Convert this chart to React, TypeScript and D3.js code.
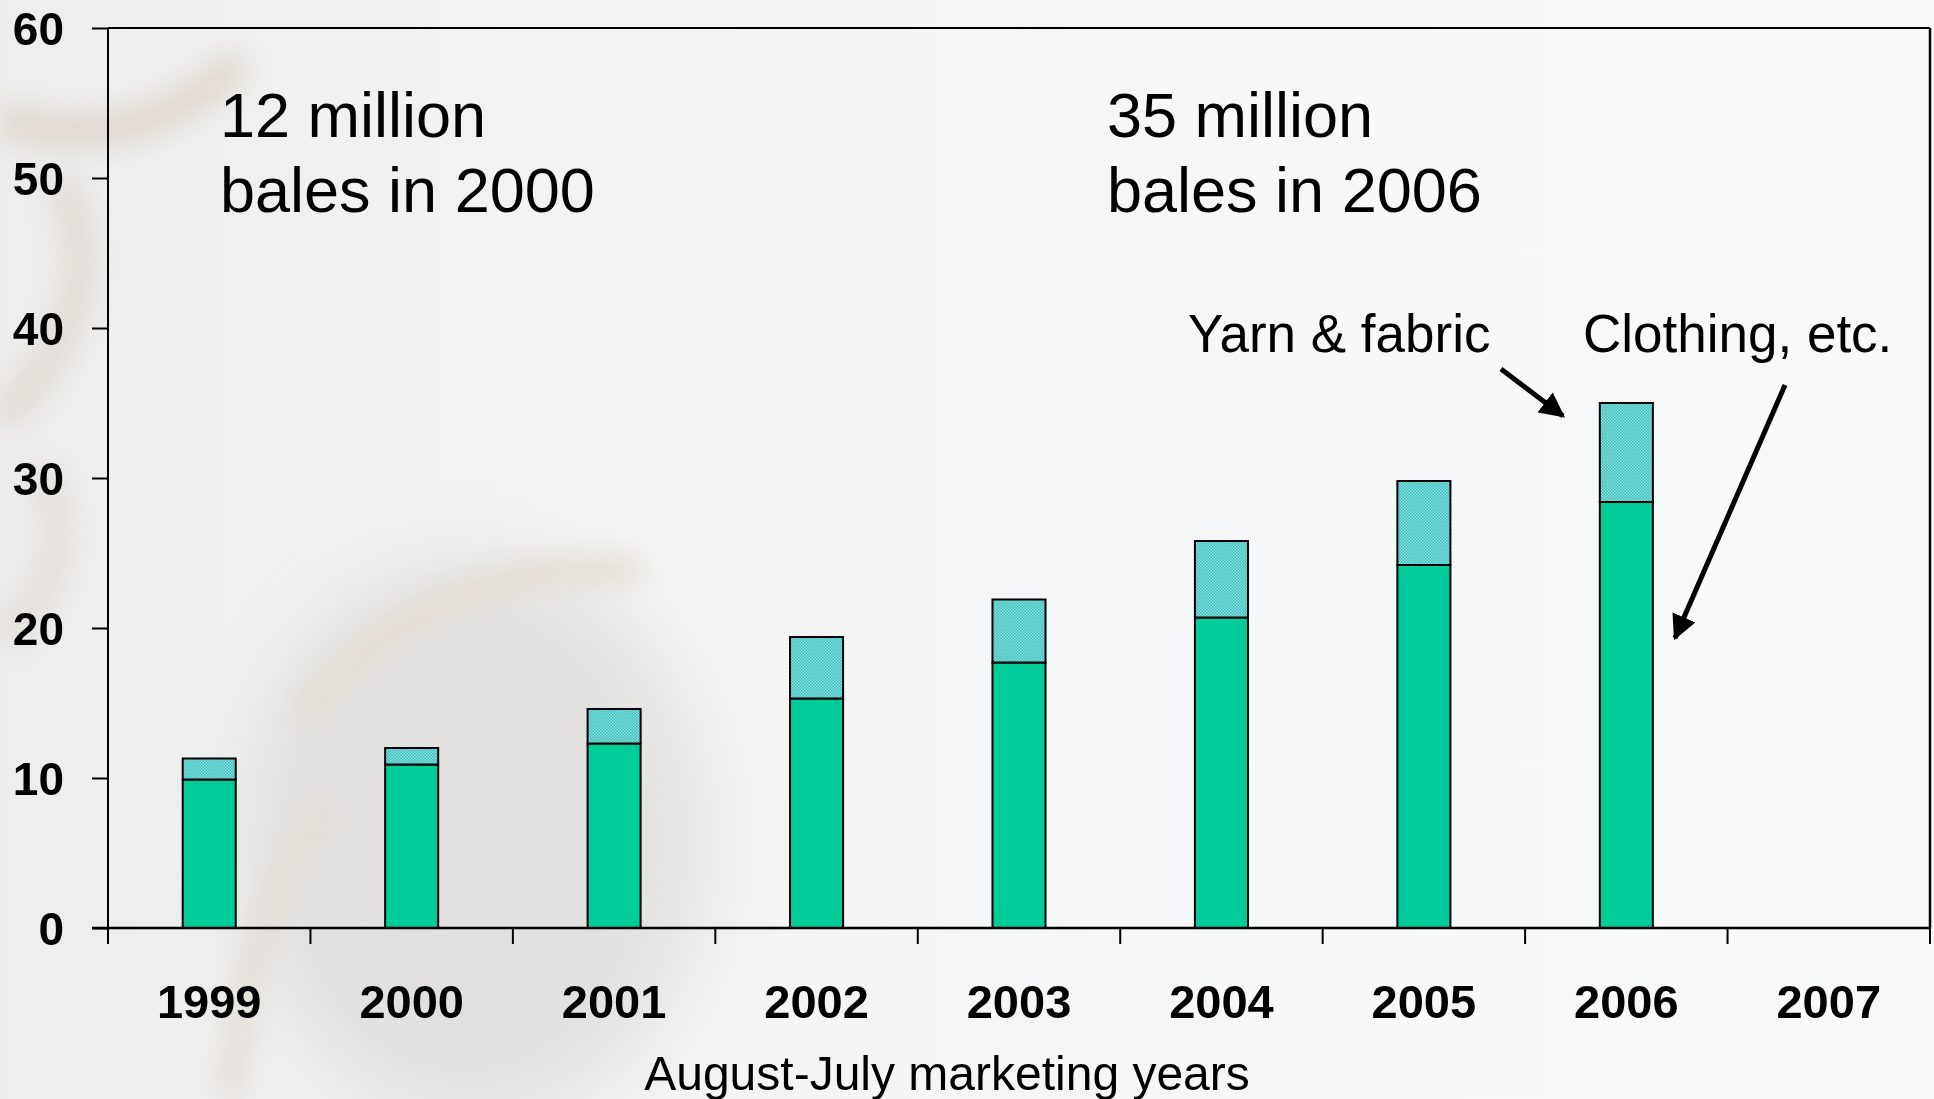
import React, { useEffect, useRef } from "react";
import * as d3 from "d3";

// marketing years (August-July)
const years = ["1999", "2000", "2001", "2002", "2003", "2004", "2005", "2006", "2007"];
// million bales
const clothing = [9.9, 10.9, 12.3, 15.3, 17.7, 20.7, 24.2, 28.4, null];
const yarnFabric = [1.4, 1.1, 2.3, 4.1, 4.2, 5.1, 5.6, 6.6, null];
const yTicks = [0, 10, 20, 30, 40, 50, 60];

const W = 1934;
const H = 1099;

const App = () => {
  const svgRef = useRef<SVGSVGElement>(null);

  useEffect(() => {
    const svg = d3.select(svgRef.current);
    svg.selectAll("*").remove();

    const left = 108;
    const right = 1930;
    const top = 28;
    const bottom = 928;

    const x = d3.scaleBand().domain(years).range([left, right]).paddingInner(0.738).paddingOuter(0.369);
    const y = d3.scaleLinear().domain([0, 60]).range([bottom, top]);

    const defs = svg.append("defs");

    // dotted fill for yarn & fabric
    const pat = defs
      .append("pattern")
      .attr("id", "dots")
      .attr("width", 3)
      .attr("height", 3)
      .attr("patternUnits", "userSpaceOnUse");
    pat.append("rect").attr("width", 3).attr("height", 3).attr("fill", "#92dcdc");
    pat.append("rect").attr("width", 1.5).attr("height", 1.5).attr("fill", "#33c0c0");
    pat.append("rect").attr("x", 1.5).attr("y", 1.5).attr("width", 1.5).attr("height", 1.5).attr("fill", "#33c0c0");

    const bgGrad = defs.append("linearGradient").attr("id", "bg").attr("x1", 0).attr("x2", 1).attr("y1", 0).attr("y2", 0);
    bgGrad.append("stop").attr("offset", 0).attr("stop-color", "#ededed");
    bgGrad.append("stop").attr("offset", 0.3).attr("stop-color", "#f3f3f3");
    bgGrad.append("stop").attr("offset", 0.7).attr("stop-color", "#f7f8fa");
    bgGrad.append("stop").attr("offset", 1).attr("stop-color", "#f8f9fb");

    const blurFilter = (id, sd) =>
      defs
        .append("filter")
        .attr("id", id)
        .attr("filterUnits", "userSpaceOnUse")
        .attr("x", -200)
        .attr("y", -200)
        .attr("width", W + 400)
        .attr("height", H + 400)
        .append("feGaussianBlur")
        .attr("stdDeviation", sd);
    blurFilter("blur", 40);
    blurFilter("blur2", 14);

    defs
      .append("marker")
      .attr("id", "arrow")
      .attr("viewBox", "0 0 10 10")
      .attr("refX", 9)
      .attr("refY", 5)
      .attr("markerWidth", 5)
      .attr("markerHeight", 5)
      .attr("orient", "auto")
      .append("path")
      .attr("d", "M0,0 L10,5 L0,10 z")
      .attr("fill", "#000");

    // faint photo background
    svg.append("rect").attr("width", W).attr("height", H).attr("fill", "url(#bg)");
    const photo = svg.append("g").attr("opacity", 0.3);
    photo.append("ellipse").attr("cx", 480).attr("cy", 840).attr("rx", 230).attr("ry", 280)
      .attr("fill", "#bdbab6").attr("filter", "url(#blur)");
    photo.append("path").attr("d", "M300,720 Q420,560 640,570")
      .attr("fill", "none").attr("stroke", "#c2a886").attr("stroke-width", 26).attr("filter", "url(#blur2)");
    photo.append("path").attr("d", "M0,120 Q140,160 240,60")
      .attr("fill", "none").attr("stroke", "#bfa587").attr("stroke-width", 34).attr("filter", "url(#blur2)");
    photo.append("path").attr("d", "M0,420 Q120,300 60,180")
      .attr("fill", "none").attr("stroke", "#c4ae94").attr("stroke-width", 30).attr("filter", "url(#blur2)");
    photo.append("path").attr("d", "M0,640 Q90,560 40,470")
      .attr("fill", "none").attr("stroke", "#cbb9a4").attr("stroke-width", 28).attr("filter", "url(#blur2)");
    photo.append("path").attr("d", "M230,1099 Q250,900 330,800")
      .attr("fill", "none").attr("stroke", "#c5ad90").attr("stroke-width", 24).attr("filter", "url(#blur2)");

    // plot border lines (top and right)
    svg.append("line").attr("x1", left).attr("x2", right).attr("y1", top).attr("y2", top).attr("stroke", "#000").attr("stroke-width", 2);
    svg.append("line").attr("x1", right).attr("x2", right).attr("y1", top).attr("y2", bottom).attr("stroke", "#000").attr("stroke-width", 2.5);

    // bars
    const rows = years.map((yr, i) => ({ yr, c: clothing[i], yf: yarnFabric[i] })).filter((d) => d.c != null);
    const bars = svg.append("g");
    bars
      .selectAll(".clothing")
      .data(rows)
      .enter()
      .append("rect")
      .attr("x", (d) => x(d.yr))
      .attr("y", (d) => y(d.c))
      .attr("width", x.bandwidth())
      .attr("height", (d) => y(0) - y(d.c))
      .attr("fill", "#00cc99")
      .attr("stroke", "#000")
      .attr("stroke-width", 2);
    bars
      .selectAll(".yarn")
      .data(rows)
      .enter()
      .append("rect")
      .attr("x", (d) => x(d.yr))
      .attr("y", (d) => y(d.c + d.yf))
      .attr("width", x.bandwidth())
      .attr("height", (d) => y(d.c) - y(d.c + d.yf))
      .attr("fill", "url(#dots)")
      .attr("stroke", "#000")
      .attr("stroke-width", 2);

    const font = "'Liberation Sans', Arial, sans-serif";

    // y axis
    const yAxis = d3.axisLeft(y).tickValues(yTicks).tickSize(16).tickFormat(d3.format("d"));
    const gy = svg.append("g").attr("transform", `translate(${left},0)`).call(yAxis);
    gy.select(".domain").attr("d", `M0,${top}V${bottom + 16}`).attr("stroke-width", 2);
    gy.selectAll(".tick line").attr("stroke-width", 2);
    gy.selectAll(".tick text")
      .attr("x", -44)
      .attr("dy", "0.36em")
      .attr("font-family", font)
      .attr("font-weight", "bold")
      .attr("font-size", 46)
      .attr("fill", "#000");

    // x axis with ticks at category boundaries
    const gx = svg.append("g");
    gx.append("line").attr("x1", left - 16).attr("x2", right).attr("y1", bottom).attr("y2", bottom).attr("stroke", "#000").attr("stroke-width", 2.5);
    const gap = (x.step() - x.bandwidth()) / 2;
    const edges = years.map((d) => x(d) - gap).concat([x(years[years.length - 1]) + x.bandwidth() + gap]);
    gx.selectAll(".xt")
      .data(edges)
      .enter()
      .append("line")
      .attr("x1", (d) => d)
      .attr("x2", (d) => d)
      .attr("y1", bottom)
      .attr("y2", bottom + 16)
      .attr("stroke", "#000")
      .attr("stroke-width", 2);
    gx.selectAll(".xl")
      .data(years)
      .enter()
      .append("text")
      .attr("x", (d) => x(d) + x.bandwidth() / 2)
      .attr("y", 1018)
      .attr("text-anchor", "middle")
      .attr("font-family", font)
      .attr("font-weight", "bold")
      .attr("font-size", 47)
      .attr("fill", "#000")
      .text((d) => d);

    svg.append("text")
      .attr("x", 947)
      .attr("y", 1090)
      .attr("text-anchor", "middle")
      .attr("font-family", font)
      .attr("font-size", 48)
      .attr("fill", "#000")
      .text("August-July marketing years");

    // annotations
    const note = (tx, ty, lines) => {
      const t = svg.append("text").attr("font-family", font).attr("font-size", 63).attr("fill", "#000");
      lines.forEach((l, i) => t.append("tspan").attr("x", tx).attr("y", ty + i * 75).text(l));
    };
    note(220, 137, ["12 million", "bales in 2000"]);
    note(1107, 137, ["35 million", "bales in 2006"]);

    svg.append("text").attr("x", 1188).attr("y", 352).attr("font-family", font).attr("font-size", 53).attr("fill", "#000").text("Yarn & fabric");
    svg.append("text").attr("x", 1583).attr("y", 352).attr("font-family", font).attr("font-size", 53).attr("fill", "#000").text("Clothing, etc.");

    svg.append("line").attr("x1", 1501).attr("y1", 369).attr("x2", 1563).attr("y2", 416)
      .attr("stroke", "#000").attr("stroke-width", 5).attr("marker-end", "url(#arrow)");
    svg.append("line").attr("x1", 1785).attr("y1", 385).attr("x2", 1675).attr("y2", 638)
      .attr("stroke", "#000").attr("stroke-width", 5).attr("marker-end", "url(#arrow)");
  }, []);

  return <svg ref={svgRef} width={W} height={H} style={{ position: "absolute", left: 0, top: 0 }}></svg>;
};

export default App;
